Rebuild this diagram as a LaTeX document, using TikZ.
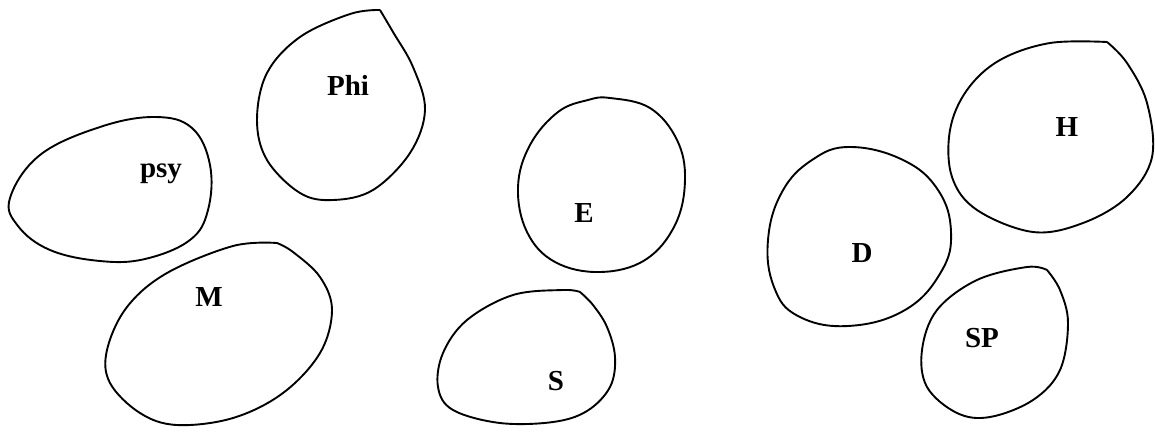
\documentclass[tikz,border=0pt]{standalone}
\usepackage{fontspec}
\setmainfont{Liberation Serif}
\begin{document}
\begin{tikzpicture}[x=1pt,y=-1pt,
  blob/.style={draw=black,line width=1.9pt,line join=round},
  lbl/.style={anchor=base,inner sep=0pt,font=\fontsize{29}{32}\selectfont\bfseries}]
\useasboundingbox (0,0) rectangle (1155,434);
% psy
\draw[blob] plot[smooth cycle,tension=0.65] coordinates {(10,198) (40,155) (100,127) (155,117) (192,128) (210,165) (208,210) (190,240) (145,259) (100,261) (50,250) (18,226)};
% Phi
\draw[blob] plot[smooth,tension=0.6] coordinates {(380,10) (350,14) (300,37) (267,73) (257,120) (267,160) (300,193) (333,200) (373,190) (410,153) (425,110) (413,67) (393,32) (380,10)};
% M
\draw[blob] plot[smooth,tension=0.6] coordinates {(277,243) (233,246) (167,273) (127,307) (107,350) (110,383) (140,413) (177,425) (233,418) (283,393) (320,353) (332,310) (320,277) (293,252) (277,243)};
% E
\draw[blob] plot[smooth cycle,tension=0.65] coordinates {(610,98) (650,108) (677,140) (685,180) (675,225) (645,260) (600,272) (555,262) (527,232) (518,187) (530,145) (558,112) (588,100)};
% S
\draw[blob] plot[smooth,tension=0.6] coordinates {(580,292) (563,290) (513,295) (467,320) (443,353) (438,387) (453,410) (500,423) (553,422) (587,411) (610,387) (615,357) (607,327) (593,305) (580,292)};
% D
\draw[blob] plot[smooth cycle,tension=0.7] coordinates {(850,147) (903,160) (938,190) (951,232) (941,272) (905,310) (848,326) (798,316) (774,287) (768,240) (782,192) (812,160)};
% H
\draw[blob] plot[smooth,tension=0.6] coordinates {(1107,42) (1050,43) (1000,60) (967,90) (950,130) (952,177) (977,210) (1033,232) (1083,223) (1127,197) (1152,157) (1147,103) (1127,63) (1107,42)};
% SP
\draw[blob] plot[smooth,tension=0.6] coordinates {(1047,270) (1027,267) (977,280) (937,310) (922,350) (927,387) (957,413) (990,417) (1033,400) (1060,370) (1068,323) (1060,290) (1047,270)};
% labels
\node[lbl] (psy) at (161,177) {psy};
\node[lbl] (phi) at (348,95) {Phi};
\node[lbl] (m) at (209,306) {M};
\node[lbl] (e) at (584,222) {E};
\node[lbl] (s) at (556,390) {S};
\node[lbl] (d) at (862,262) {D};
\node[lbl] (h) at (1067,136) {H};
\node[lbl] (sp) at (982,347) {SP};
\end{tikzpicture}
\end{document}
